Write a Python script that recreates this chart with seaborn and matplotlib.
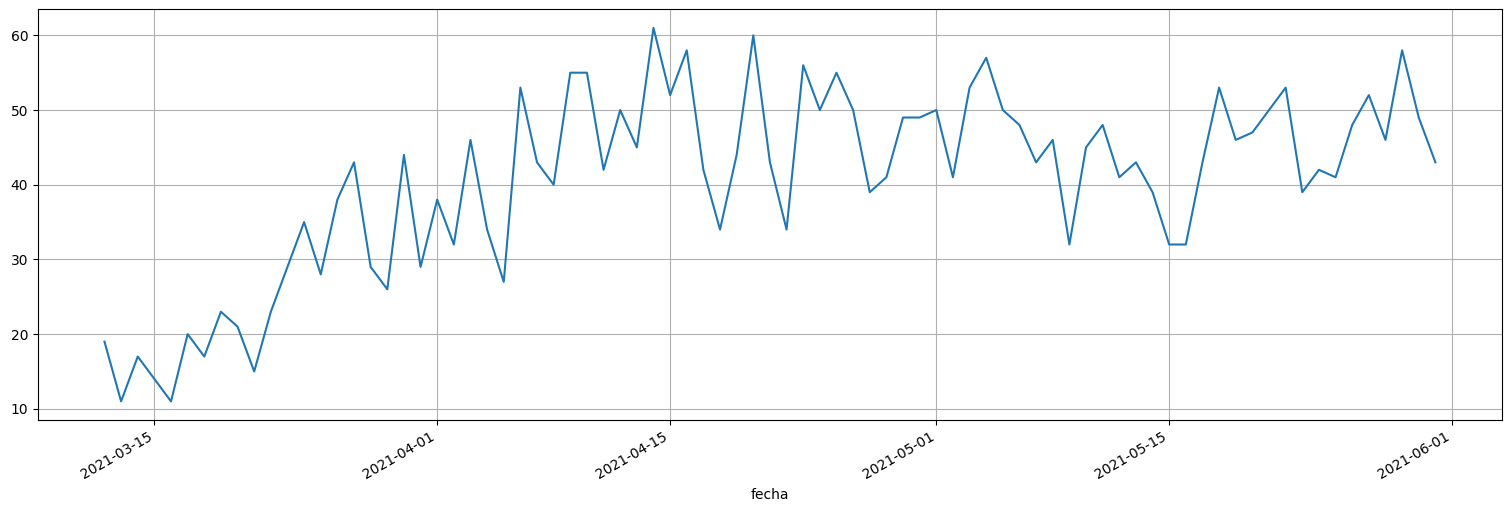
import pandas as pd
import matplotlib
matplotlib.use("Agg")
import matplotlib.pyplot as plt
import seaborn as sns

# daily counts (a few days absent in the source)
fechas = [
    "2021-03-12", "2021-03-13", "2021-03-14", "2021-03-16", "2021-03-17",
    "2021-03-18", "2021-03-19", "2021-03-20", "2021-03-21", "2021-03-22",
    "2021-03-24", "2021-03-25", "2021-03-26", "2021-03-27", "2021-03-28",
    "2021-03-29", "2021-03-30", "2021-03-31", "2021-04-01", "2021-04-02",
    "2021-04-03", "2021-04-04", "2021-04-05", "2021-04-06", "2021-04-07",
    "2021-04-08", "2021-04-09", "2021-04-10", "2021-04-11", "2021-04-12",
    "2021-04-13", "2021-04-14", "2021-04-15", "2021-04-16", "2021-04-17",
    "2021-04-18", "2021-04-19", "2021-04-20", "2021-04-21", "2021-04-22",
    "2021-04-23", "2021-04-24", "2021-04-25", "2021-04-26", "2021-04-27",
    "2021-04-28", "2021-04-29", "2021-04-30", "2021-05-01", "2021-05-02",
    "2021-05-03", "2021-05-04", "2021-05-05", "2021-05-06", "2021-05-07",
    "2021-05-08", "2021-05-09", "2021-05-10", "2021-05-11", "2021-05-12",
    "2021-05-13", "2021-05-14", "2021-05-15", "2021-05-16", "2021-05-17",
    "2021-05-18", "2021-05-19", "2021-05-20", "2021-05-22", "2021-05-23",
    "2021-05-24", "2021-05-25", "2021-05-26", "2021-05-27", "2021-05-28",
    "2021-05-29", "2021-05-30", "2021-05-31",
]
casos = [
    19, 11, 17, 11, 20,
    17, 23, 21, 15, 23,
    35, 28, 38, 43, 29,
    26, 44, 29, 38, 32,
    46, 34, 27, 53, 43,
    40, 55, 55, 42, 50,
    45, 61, 52, 58, 42,
    34, 44, 60, 43, 34,
    56, 50, 55, 50, 39,
    41, 49, 49, 50, 41,
    53, 57, 50, 48, 43,
    46, 32, 45, 48, 41,
    43, 39, 32, 32, 43,
    53, 46, 47, 53, 39,
    42, 41, 48, 52, 46,
    58, 49, 43,
]

df = pd.DataFrame({"fecha": pd.to_datetime(fechas), "casos": casos})

fig, ax = plt.subplots(figsize=(15.11, 5.11), dpi=100)
sns.lineplot(data=df, x="fecha", y="casos", ax=ax, color="#1f77b4", linewidth=1.5)
ax.grid(True, color="#b0b0b0", linewidth=0.8)
ax.set_xlabel("fecha")
ax.set_ylabel("")
ax.set_yticks([10, 20, 30, 40, 50, 60])
plt.setp(ax.get_xticklabels(), rotation=30, ha="right")
fig.subplots_adjust(left=0.0251, right=0.994, top=0.982, bottom=0.178)
fig.savefig("out.png", dpi=100)
